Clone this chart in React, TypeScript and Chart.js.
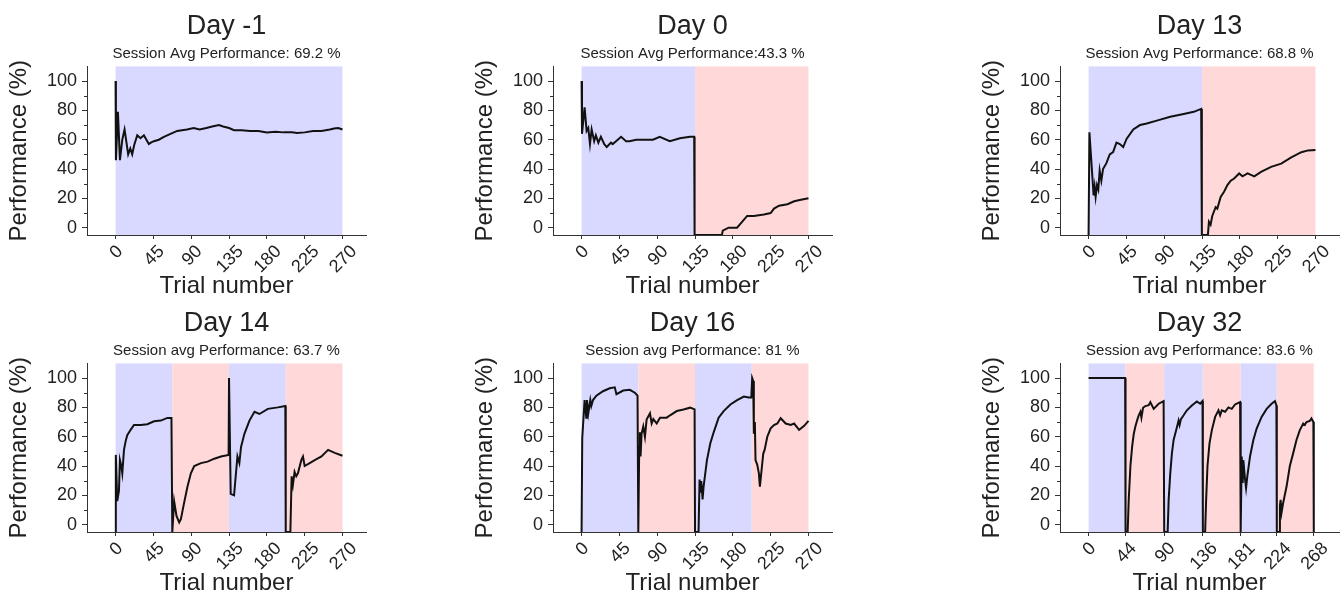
import React, { useEffect, useRef } from 'react';
import { Chart, registerables } from 'chart.js';

Chart.register(...registerables);

const FONT = '"Liberation Sans", Arial, Helvetica, sans-serif';
const TEXT = '#222222';
const AXIS = '#333333';
const BLUE = 'rgb(217,217,255)';
const RED = 'rgb(255,217,217)';

// ---------- data ----------
const titles = ['Day -1', 'Day 0', 'Day 13', 'Day 14', 'Day 16', 'Day 32'];
const subtitles = [
  'Session Avg Performance: 69.2 %',
  'Session Avg Performance:43.3 %',
  'Session Avg Performance: 68.8 %',
  'Session avg Performance: 63.7 %',
  'Session avg Performance: 81 %',
  'Session avg Performance: 83.6 %',
];

const yTicks = [0, 20, 40, 60, 80, 100];
const yMinorTicks = [10, 30, 50, 70, 90];
const xTicks270 = [0, 45, 90, 135, 180, 225, 270];
const xTicksDay32 = [0, 44, 90, 136, 181, 224, 268];

// block boundaries (shading alternates blue / red starting with blue)
const blocksDayM1 = [0, 270];
const blocksDay0 = [0, 135, 270];
const blocksDay13 = [0, 135, 270];
const blocksDay14 = [0, 67.5, 135, 202.5, 270];
const blocksDay16 = [0, 67.5, 135, 202.5, 270];
const blocksDay32 = [0, 44, 90, 136, 181, 224, 268];

const trialsDayM1 = [0, 0.4, 2.8, 5.2, 8, 10.7, 13, 15, 17.5, 19.8, 22, 25.8, 29.7, 33.7, 37.7, 39.6, 42, 45.6, 51.5, 57.5, 65.4, 73.3, 85, 93, 100, 108, 115, 123, 128, 135, 141, 150, 160, 170, 180, 190, 200, 210, 216, 225, 235, 245, 255, 260, 265, 270];
const perfDayM1 = [100, 46, 79, 46, 60, 67, 58, 50, 54, 50, 56, 63, 61, 63, 59, 57, 58, 59, 60, 62, 64, 66, 67, 68, 67, 68, 69, 70, 69, 68, 66.5, 66.5, 66, 66, 65, 65.5, 65, 65, 64.5, 65, 66, 66, 67, 67.6, 68, 67];

const trialsDay0 = [0, 0.5, 3.6, 6, 8, 10, 12, 15, 17, 20, 23, 27, 30, 35, 37, 41, 47, 53, 57, 65, 73, 85, 93, 105, 117, 129, 134, 134.5, 167, 168, 175, 185, 191, 197, 205, 217, 225, 229, 235, 245, 253, 261, 270];
const perfDay0 = [100, 64, 82, 66, 68, 57, 67, 59, 63, 58, 62, 57, 55, 58, 57, 59, 62, 59, 59, 60, 60, 60, 62, 59, 61, 62, 62, -5, -5, -2, 0, 0, 4, 8, 8, 9, 10, 13, 15, 16, 18, 19, 20];

const trialsDay13 = [0, 1, 6, 7.2, 8.4, 10, 11.6, 13.2, 15.2, 17.2, 21.2, 25.2, 29.2, 33.2, 37.2, 41.2, 45.2, 53.2, 61.2, 69.2, 81.2, 97.2, 113.2, 125.2, 134, 134.8, 142, 143.2, 145.2, 147.2, 151.2, 153.2, 157.2, 161.2, 165.2, 169.2, 173.2, 179.2, 183.2, 189.2, 197.2, 205.2, 217.2, 229.2, 241.2, 253.2, 261.2, 270];
const perfDay13 = [-5, 65, 22, 28, 21, 29, 26, 39, 32, 40, 44, 50, 51.5, 58, 57, 55, 60.5, 67, 70, 71, 73, 75.7, 77.5, 79, 81, -5, -5, 4, 2, 8, 14, 13, 21, 24.5, 29, 32, 33.5, 37, 35, 37, 35, 38, 41.5, 43.7, 48, 51.5, 52.7, 53];

const trialsDay14 = [0, 0.3, 2, 4, 5.2, 6.8, 8, 10, 12, 13.9, 17.9, 21.9, 29.9, 37.8, 45.8, 53.8, 61.7, 66.5, 67.5, 69.7, 72.5, 75.7, 77.7, 81.6, 85.6, 89.6, 93.6, 101.6, 109.5, 117.5, 125.4, 134.5, 135, 137, 141, 145, 147.3, 149.3, 153.3, 159.3, 165.3, 171.2, 181.2, 193.2, 202, 202.5, 208, 209.5, 211, 213, 215, 217, 221, 223, 225, 231, 237, 245, 252.9, 260.8, 270];
const perfDay14 = [-5, 47.6, 16, 23, 44, 40, 35, 51, 57, 61, 64.7, 68, 68, 68.5, 70.5, 71, 72.8, 72.8, -5, 16, 6, 1.6, 3.8, 15, 26, 35, 40, 42, 43, 45, 46.5, 47.6, 100, 21, 20, 46.5, 42, 53, 62, 71, 77, 75.5, 79, 80, 81, -5, -5, 33, 27, 36, 33, 35, 44, 46.5, 40, 42, 44, 46.5, 51, 49, 47];

const trialsDay16 = [0, 0.8, 3.6, 5.6, 6.4, 8, 10.4, 11.6, 13.6, 17.6, 25.5, 33.5, 39.5, 41.5, 49.5, 57.4, 63.4, 66.6, 67.5, 68.6, 69.4, 70.2, 71.4, 73.4, 75.4, 77.4, 81.4, 83.4, 85.4, 89.4, 93.3, 101.3, 105.3, 113.3, 121.3, 129.2, 134.5, 135, 139.2, 140.4, 141.2, 142.4, 144, 145.2, 149.2, 153.2, 157.2, 163.1, 169.1, 177.1, 185.1, 193.1, 199, 202, 203, 204.2, 205, 206.2, 207, 209, 211, 212.2, 213.8, 216.2, 217.8, 221, 225, 229, 233, 236.9, 242.9, 248.9, 252.9, 258.9, 264.9, 270];
const perfDay16 = [-5, 59, 85, 73, 85, 76, 85, 81, 85, 88, 91, 93, 93.7, 89, 91.5, 92, 90, 88, -5, 53, 63, 46.5, 62, 67, 60, 71.7, 76, 69, 72, 69, 73, 73, 74.6, 77.5, 78.6, 79.8, 78.6, -5, -5, 30.8, 21.8, 29.7, 17.3, 26, 44, 55.5, 63, 73, 77.5, 82, 85, 87.4, 86.7, 86.7, 100, 98, 62, 70, 44, 41, 35, 26, 35, 48.5, 51, 60, 65.7, 68, 69, 72.6, 69, 68, 69, 64.7, 67.4, 70.8];

const trialsDay32 = [0, 43.5, 44, 46.5, 47.8, 49.8, 51.8, 53.8, 55.7, 57.7, 59.7, 61.7, 62.9, 64.8, 67.6, 71.6, 73.5, 77.5, 83.4, 89.3, 90, 94.1, 95.3, 97.2, 99.2, 101.2, 105.2, 107.1, 108.3, 109.9, 113.1, 117, 122.9, 128.9, 132.8, 135.6, 136, 138.7, 139.9, 141.5, 143.9, 146.7, 150.6, 154.6, 156.5, 158.5, 162.5, 166.4, 170.4, 174.3, 180.3, 181, 182.2, 183.4, 184.2, 186.2, 187.4, 188.9, 192.1, 196.1, 200, 205.9, 211.9, 217.8, 221.8, 223.5, 224, 226.9, 227.7, 228.5, 229.7, 231.6, 235.6, 239.5, 243.5, 247.4, 251.4, 255.4, 257.3, 259.3, 263.3, 265.2, 267.5, 268];
const perfDay32 = [100, 100, -5, -5, 17, 40, 53, 62, 67, 71, 74.6, 77, 73, 79.7, 80.9, 81.5, 83.6, 79, 82.5, 84.3, -5, -5, 17, 35, 48.8, 57.8, 66.7, 71, 68, 72, 74.6, 78, 81.3, 84, 82.5, 84.3, -5, -5, 17, 40, 55.5, 64.5, 73.5, 78, 74.6, 78, 77, 80, 79, 82, 83.6, -5, 46.5, 28.5, 44, 30.8, 25, 33, 46.5, 57.7, 65.6, 73.5, 79, 82.5, 84.3, 81.3, -5, -5, 12.8, 17, 8.3, 15, 26, 40, 48.8, 57.8, 64.5, 69, 68, 70, 70.8, 72.4, 70, -5];

const X_MIN = -34;
const X_MAX = 298;
const Y_MIN = -5;
const Y_MAX = 110;

// ---------- layout (kept separate from data) ----------
const panelLefts = [0, 466, 973, 0, 466, 973];
const panelTops = [0, 0, 0, 297, 297, 297];
const PANEL_W = 370;
const PANEL_H = 301;

const panelData = [
  { trials: trialsDayM1, perf: perfDayM1, blocks: blocksDayM1, xTicks: xTicks270 },
  { trials: trialsDay0, perf: perfDay0, blocks: blocksDay0, xTicks: xTicks270 },
  { trials: trialsDay13, perf: perfDay13, blocks: blocksDay13, xTicks: xTicks270 },
  { trials: trialsDay14, perf: perfDay14, blocks: blocksDay14, xTicks: xTicks270 },
  { trials: trialsDay16, perf: perfDay16, blocks: blocksDay16, xTicks: xTicks270 },
  { trials: trialsDay32, perf: perfDay32, blocks: blocksDay32, xTicks: xTicksDay32 },
];

function makeDecor(blocks: number[], xTicks: number[]) {
  return {
    id: 'decor',
    beforeDraw(chart: any) {
      const { ctx, chartArea } = chart;
      const xs = chart.scales.x;
      ctx.save();
      for (let i = 0; i < blocks.length - 1; i++) {
        const x0 = xs.getPixelForValue(blocks[i]);
        const x1 = xs.getPixelForValue(blocks[i + 1]);
        ctx.fillStyle = i % 2 === 0 ? BLUE : RED;
        ctx.fillRect(x0, chartArea.top, x1 - x0, chartArea.bottom - chartArea.top);
      }
      ctx.restore();
    },
    afterDraw(chart: any) {
      const { ctx, chartArea } = chart;
      const xs = chart.scales.x;
      const ys = chart.scales.y;
      ctx.save();
      // minor y ticks
      ctx.strokeStyle = AXIS;
      ctx.lineWidth = 1;
      for (const v of yMinorTicks) {
        const py = Math.round(ys.getPixelForValue(v)) + 0.5;
        ctx.beginPath();
        ctx.moveTo(chartArea.left - 3, py);
        ctx.lineTo(chartArea.left, py);
        ctx.stroke();
      }
      // rotated x tick labels, centred on the tick
      const size = 18;
      ctx.font = `${size}px ${FONT}`;
      ctx.fillStyle = TEXT;
      ctx.textAlign = 'center';
      ctx.textBaseline = 'middle';
      for (const v of xTicks) {
        const label = String(v);
        const px = xs.getPixelForValue(v);
        const w = ctx.measureText(label).width;
        const h = size * 0.75;
        const cy = chartArea.bottom + 9 + ((w + h) * Math.SQRT1_2) / 2;
        ctx.save();
        ctx.translate(px + 1, cy);
        ctx.rotate(-Math.PI / 4);
        ctx.fillText(label, 0, 0);
        ctx.restore();
      }
      ctx.restore();
    },
  };
}

function Panel({ index }: { index: number }) {
  const ref = useRef<HTMLCanvasElement | null>(null);
  useEffect(() => {
    const d = panelData[index];
    const chart = new Chart(ref.current as HTMLCanvasElement, {
      type: 'line',
      data: {
        datasets: [
          {
            data: d.trials.map((t, i) => ({ x: t, y: d.perf[i] })),
            borderColor: '#111111',
            borderWidth: 2,
            pointRadius: 0,
            tension: 0,
            fill: false,
          },
        ],
      },
      options: {
        animation: false,
        responsive: true,
        maintainAspectRatio: false,
        events: [],
        layout: { padding: { left: 0, right: 4, top: 0, bottom: 0 } },
        plugins: {
          legend: { display: false },
          tooltip: { enabled: false },
          title: {
            display: true,
            text: titles[index],
            fullSize: false,
            color: TEXT,
            font: { family: FONT, size: 27, weight: 'normal', lineHeight: 1.2 },
            padding: { top: 10, bottom: 2 },
          },
          subtitle: {
            display: true,
            text: subtitles[index],
            fullSize: false,
            color: TEXT,
            font: { family: FONT, size: 15, weight: 'normal', lineHeight: 1.2 },
            padding: { top: 0, bottom: 4 },
          },
        },
        scales: {
          x: {
            type: 'linear',
            min: X_MIN,
            max: X_MAX,
            afterBuildTicks: (s: any) => {
              s.ticks = d.xTicks.map((v) => ({ value: v }));
            },
            afterFit: (s: any) => {
              s.height = 66;
            },
            ticks: { display: false },
            grid: { drawOnChartArea: false, drawTicks: true, tickLength: 4, color: AXIS },
            border: { display: true, color: AXIS, width: 1 },
            title: {
              display: true,
              text: 'Trial number',
              color: TEXT,
              font: { family: FONT, size: 24, lineHeight: 1.2 },
              padding: { top: 0, bottom: 0 },
            },
          },
          y: {
            type: 'linear',
            min: Y_MIN,
            max: Y_MAX,
            afterBuildTicks: (s: any) => {
              s.ticks = yTicks.map((v) => ({ value: v }));
            },
            afterFit: (s: any) => {
              s.width = 87;
            },
            ticks: { color: TEXT, font: { family: FONT, size: 18 }, padding: 5 },
            grid: { drawOnChartArea: false, drawTicks: true, tickLength: 5, color: AXIS },
            border: { display: true, color: AXIS, width: 1 },
            title: {
              display: true,
              text: 'Performance (%)',
              color: TEXT,
              font: { family: FONT, size: 24, lineHeight: 1.2 },
              padding: { top: 5, bottom: 0 },
            },
          },
        },
      } as any,
      plugins: [makeDecor(d.blocks, d.xTicks)],
    });
    return () => chart.destroy();
  }, [index]);

  return (
    <div
      style={{
        position: 'absolute',
        left: panelLefts[index],
        top: panelTops[index],
        width: PANEL_W,
        height: PANEL_H,
      }}
    >
      <canvas ref={ref} />
    </div>
  );
}

export default function App() {
  return (
    <div
      style={{
        position: 'fixed',
        left: 0,
        top: 0,
        width: 1343,
        height: 597,
        overflow: 'hidden',
        background: '#ffffff',
      }}
    >
      {titles.map((_, i) => (
        <Panel key={i} index={i} />
      ))}
    </div>
  );
}
